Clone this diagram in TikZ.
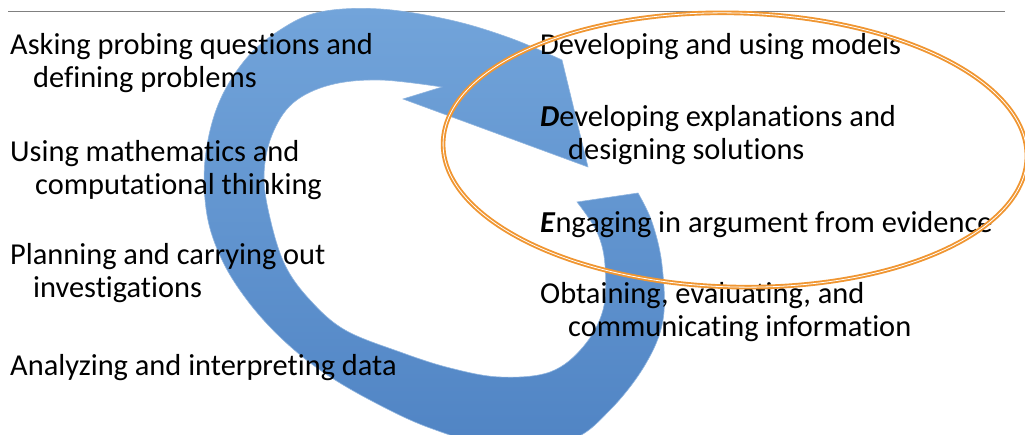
\documentclass[tikz,border=0pt]{standalone}
\usepackage{fontspec}
\setmainfont{Carlito}[Ligatures=NoCommon]
\definecolor{cycleblue}{RGB}{96,150,210}
\definecolor{cycleblueL}{RGB}{114,164,218}
\definecolor{cycleblueD}{RGB}{80,132,196}
\definecolor{ringorange}{RGB}{240,150,50}
\begin{document}
\begin{tikzpicture}[x=1pt, y=-1pt,
  practice/.style={anchor=base west, inner sep=0pt, align=left,
    font=\fontsize{30.4}{33}\selectfont},
  ring/.style={draw=ringorange, double=white, double distance=0.8pt, line width=1.9pt}]
\useasboundingbox (0,0) rectangle (1025,435);
\draw[gray, line width=1pt] (8,12) -- (1005,12);
% the big cycle arrow
\shade[top color=cycleblueL, bottom color=cycleblueD, draw=cycleblue!70!white, line width=0.6pt]
  (638,193) -- plot[smooth, tension=0.6] coordinates {(638,193) (652,222) (662,265) (663,320) (645,365) (610,410) (570,440) (500,447) (430,428) (370,400) (320,370) (280,337) (247,300) (222,260) (207,215) (205,160) (218,105) (245,60) (280,30) (320,12) (380,9) (450,20) (510,38) (562,60)}
  -- (588,167) -- (403,99) -- (442,87)
  -- plot[smooth, tension=0.6] coordinates {(442,87) (380,80) (330,85) (293,103) (272,135) (264,175) (270,218) (285,265) (310,300) (345,330) (400,352) (450,368) (500,377) (550,372) (583,347) (603,310) (605,265) (597,232) (577,202)}
  -- cycle;
% practices (two-line nodes sit on their last baseline)
\node[practice] (ask) at (10,88) {Asking probing questions and\\\hspace*{23pt}defining problems};
\node[practice] (math) at (10,195) {Using mathematics and\\\hspace*{25pt}computational thinking};
\node[practice] (plan) at (10,298) {Planning and carrying out\\\hspace*{23pt}investigations};
\node[practice] (data) at (10,376) {Analyzing and interpreting data};
\node[practice] (models) at (540,55) {Developing and using models};
\node[practice] (explain) at (540,160) {\textbf{\textit{D}}eveloping explanations and\\\hspace*{28pt}designing solutions};
\node[practice] (argue) at (540,233) {\textbf{\textit{E}}ngaging in argument from evidence};
\node[practice] (inform) at (540,337) {Obtaining, evaluating, and\\\hspace*{28pt}communicating information};
\draw[ring, rotate around={-1.5:(735,150)}] (735,150) ellipse [x radius=292pt, y radius=137pt];
\end{tikzpicture}
\end{document}
